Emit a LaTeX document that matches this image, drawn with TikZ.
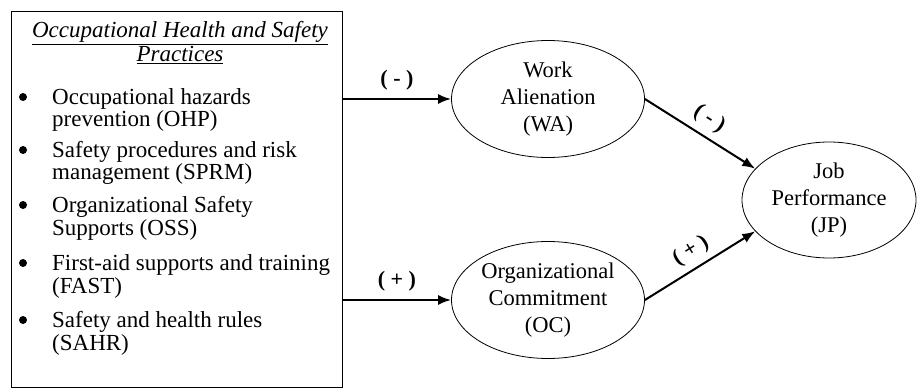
\documentclass[tikz,border=0pt]{standalone}
\usepackage{fontspec}
\setmainfont{Liberation Serif}
\usetikzlibrary{shapes.geometric, arrows.meta}

\tikzset{
  construct/.style={ellipse, draw, line width=0.8pt, align=center, inner sep=0pt,
    font=\fontsize{22.5}{27}\selectfont},
  effect/.style={-{Latex[length=13pt, width=10pt]}, line width=2pt},
  sign/.style={font=\fontsize{22}{24}\selectfont\bfseries},
  practice/.style={anchor=base west, align=left, inner sep=0pt,
    font=\fontsize{23}{22.5}\selectfont},
  bulletdot/.style={circle, fill, inner sep=0pt, minimum size=8pt},
}

\begin{document}
\begin{tikzpicture}[x=1pt, y=-1pt]
  \useasboundingbox (0, 0) rectangle (923, 390);

  % Practices box (text anchors sit on the last line)
  \node[draw, line width=0.8pt, anchor=north west, inner sep=0pt,
        minimum width=331pt, minimum height=376pt] (ohsp) at (11, 11) {};
  \node[anchor=base, align=center, inner sep=0pt,
        font=\fontsize{23}{24}\selectfont\itshape] (title) at (180, 62)
    {\underline{Occupational Health and Safety}\\\underline{Practices}};

  \node[bulletdot] (b1) at (23, 97) {};
  \node[practice] (ohp) at (52, 127) {Occupational hazards\\prevention (OHP)};
  \node[bulletdot] (b2) at (23, 150) {};
  \node[practice] (sprm) at (52, 180) {Safety procedures and risk\\management (SPRM)};
  \node[bulletdot] (b3) at (23, 205) {};
  \node[practice] (oss) at (52, 235) {Organizational Safety\\Supports (OSS)};
  \node[bulletdot] (b4) at (23, 263) {};
  \node[practice] (fast) at (52, 293) {First-aid supports and training\\(FAST)};
  \node[bulletdot] (b5) at (23, 320) {};
  \node[practice] (sahr) at (52, 350) {Safety and health rules\\(SAHR)};

  % Constructs
  \node[construct, minimum width=193pt, minimum height=117pt] (wa) at (548, 99)
    {Work\\Alienation\\(WA)};
  \node[construct, minimum width=193pt, minimum height=117pt] (oc) at (548, 300)
    {Organizational\\Commitment\\(OC)};
  \node[construct, minimum width=174pt, minimum height=116pt] (jp) at (829, 200)
    {Job\\Performance\\(JP)};

  % Paths
  \draw[effect] (ohsp.east |- wa.west) -- node[sign, above=4pt] {( - )} (wa.west);
  \draw[effect] (ohsp.east |- oc.west) -- node[sign, above=4pt] {( + )} (oc.west);
  \draw[effect] (wa.east) -- node[sign, sloped, above=3pt] {( - )} (jp.157);
  \draw[effect] (oc.east) -- node[sign, sloped, above=3pt] {( + )} (jp.203);
\end{tikzpicture}
\end{document}
